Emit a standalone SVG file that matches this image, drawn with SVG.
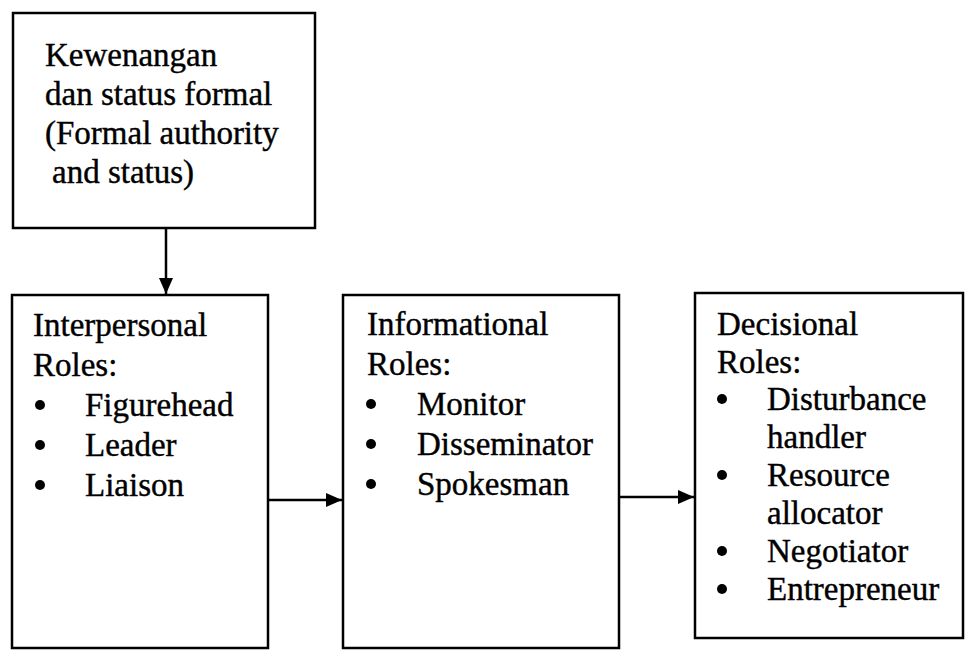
<svg xmlns="http://www.w3.org/2000/svg" width="966" height="652" viewBox="0 0 966 652">
<defs>
<style>
.box{fill:#fff;stroke:#000;stroke-width:2.5}
.t{font-family:"Liberation Serif","Times New Roman",serif;font-size:33px;fill:#000;stroke:#000;stroke-width:0.4}
.ln{stroke:#000;stroke-width:2.5;fill:none}
.b{fill:#000}
</style>
<marker id="ah" markerWidth="16" markerHeight="14" refX="16" refY="7" orient="auto" markerUnits="userSpaceOnUse">
<path d="M0,0 L16,7 L0,14 Z" fill="#000"/>
</marker>
</defs>
<rect width="966" height="652" fill="#fff"/>
<g id="connectors">
<line class="ln" x1="166" y1="228" x2="166" y2="294" marker-end="url(#ah)"/>
<line class="ln" x1="268" y1="500" x2="342" y2="500" marker-end="url(#ah)"/>
<line class="ln" x1="619" y1="497" x2="694" y2="497" marker-end="url(#ah)"/>
</g>
<g id="authority">
<rect class="box" x="13" y="13" width="302" height="215"/>
<text class="t" x="45" y="66">Kewenangan</text>
<text class="t" x="45" y="105">dan status formal</text>
<text class="t" x="45" y="144">(Formal authority</text>
<text class="t" x="52" y="183">and status)</text>
</g>
<g id="interpersonal">
<rect class="box" x="12" y="295" width="256" height="353"/>
<text class="t" x="33" y="336">Interpersonal</text>
<text class="t" x="33" y="376">Roles:</text>
<circle class="b" cx="40" cy="405" r="5"/>
<text class="t" x="85" y="416">Figurehead</text>
<circle class="b" cx="40" cy="445" r="5"/>
<text class="t" x="85" y="456">Leader</text>
<circle class="b" cx="40" cy="485" r="5"/>
<text class="t" x="85" y="496">Liaison</text>
</g>
<g id="informational">
<rect class="box" x="343" y="295" width="276" height="353"/>
<text class="t" x="367" y="335">Informational</text>
<text class="t" x="367" y="375">Roles:</text>
<circle class="b" cx="371" cy="404" r="5"/>
<text class="t" x="417" y="415">Monitor</text>
<circle class="b" cx="371" cy="444" r="5"/>
<text class="t" x="417" y="455">Disseminator</text>
<circle class="b" cx="371" cy="484" r="5"/>
<text class="t" x="417" y="495">Spokesman</text>
</g>
<g id="decisional">
<rect class="box" x="695" y="293" width="268" height="345"/>
<text class="t" x="717" y="335">Decisional</text>
<text class="t" x="717" y="373">Roles:</text>
<circle class="b" cx="722" cy="399" r="5"/>
<text class="t" x="767" y="410">Disturbance</text>
<text class="t" x="767" y="448">handler</text>
<circle class="b" cx="722" cy="475" r="5"/>
<text class="t" x="767" y="486">Resource</text>
<text class="t" x="767" y="524">allocator</text>
<circle class="b" cx="722" cy="551" r="5"/>
<text class="t" x="767" y="562">Negotiator</text>
<circle class="b" cx="722" cy="589" r="5"/>
<text class="t" x="767" y="600">Entrepreneur</text>
</g>
</svg>
